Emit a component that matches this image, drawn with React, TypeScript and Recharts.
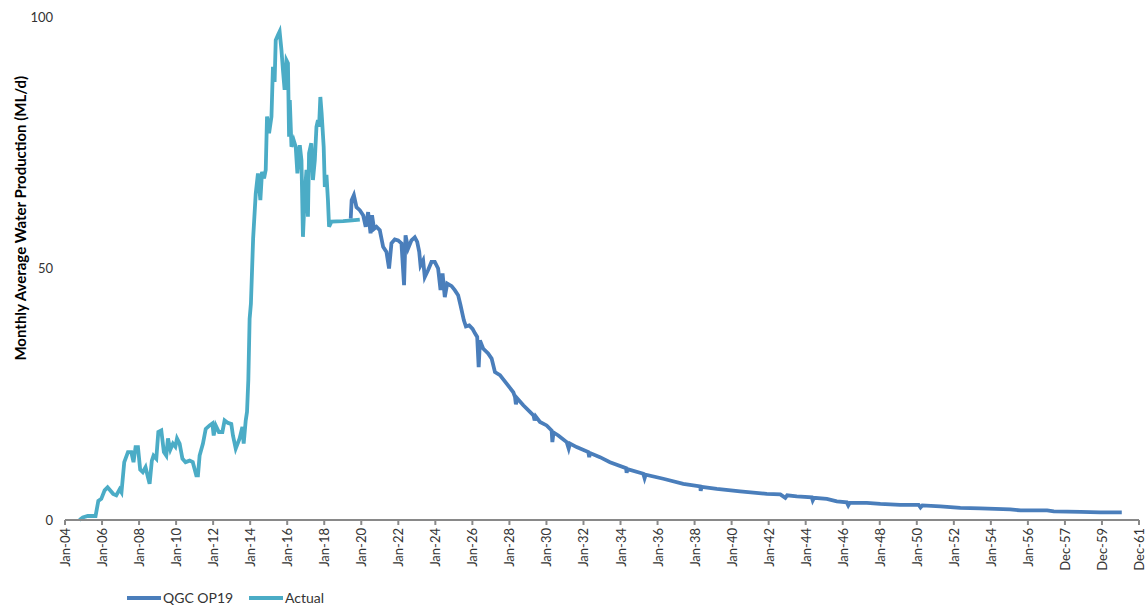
import { LineChart, Line, XAxis, YAxis, Label } from "recharts";

document.body.style.margin = "0";

// Actual production (decimal year, ML/d)
const actualYears = [
  2004.78, 2004.96, 2005.23, 2005.65, 2005.8, 2005.96, 2006.14, 2006.3, 2006.6, 2006.77,
  2006.95, 2007.05, 2007.2, 2007.4, 2007.58, 2007.7, 2007.81, 2007.94, 2008.06, 2008.2,
  2008.35, 2008.48, 2008.57, 2008.69, 2008.78, 2008.93, 2009.04, 2009.2, 2009.34, 2009.47,
  2009.56, 2009.69, 2009.83, 2009.96, 2010.05, 2010.19, 2010.34, 2010.51, 2010.73, 2010.9,
  2011.09, 2011.18, 2011.27, 2011.45, 2011.6, 2011.81, 2011.96, 2012.03, 2012.14, 2012.31,
  2012.5, 2012.62, 2012.8, 2012.98, 2013.07, 2013.22, 2013.43, 2013.58, 2013.65, 2013.76,
  2013.83, 2013.9, 2013.97, 2014.04, 2014.16, 2014.3, 2014.42, 2014.55, 2014.64, 2014.75,
  2014.84, 2014.91, 2015.02, 2015.15, 2015.23, 2015.32, 2015.38, 2015.5, 2015.59, 2015.69,
  2015.77, 2015.86, 2015.96, 2016.04, 2016.1, 2016.14, 2016.23, 2016.35, 2016.46, 2016.55,
  2016.68, 2016.77, 2016.85, 2016.95, 2017.04, 2017.12, 2017.18, 2017.3, 2017.39, 2017.49,
  2017.58, 2017.66, 2017.72, 2017.79, 2017.86, 2017.97, 2018.03, 2018.12, 2018.2, 2018.26,
  2018.39, 2019.02, 2019.65, 2019.92,
];
const actualValues = [
  0, 0.5, 0.8, 0.8, 3.8, 4.2, 5.9, 6.5, 5.2, 4.9,
  6.1, 5.5, 11.5, 13.5, 13.5, 11.5, 14.5, 14.5, 10, 9.5,
  10.5, 8.5, 7.2, 11.8, 12.8, 12.2, 17.5, 17.8, 13.5, 12.8,
  16.2, 14, 15.2, 14.6, 16.2, 15.2, 12.2, 11.5, 11.8, 11.5,
  8.9, 8.9, 12.8, 15.2, 18.1, 18.8, 19.2, 16.8, 18.8, 17.5,
  17.5, 19.8, 19.3, 19.1, 16.8, 14.2, 16.2, 18.5, 15.2, 19.8,
  21.5, 27.8, 40, 43, 56, 64.9, 68.9, 63.6, 69.2, 67.9,
  69.6, 80.2, 76.9, 80.2, 90.1, 87.1, 95.4, 96.4, 97.1, 93.4,
  89.5, 85.5, 91.4, 90.8, 76.2, 83.5, 74.2, 75.5, 74.2, 68.9,
  74.5, 71.5, 56.3, 64.9, 69.6, 60.3, 72.9, 74.9, 67.6, 71.5,
  78.2, 79.5, 78.2, 84.1, 80.8, 74.2, 66.2, 68.6, 63.6, 58.3,
  59.3, 59.4, 59.6, 59.7,
];

// QGC OP19 forecast (decimal year, ML/d)
const forecastYears = [
  2019.43, 2019.48, 2019.6, 2019.74, 2019.92, 2020.1, 2020.24, 2020.37, 2020.5, 2020.58,
  2020.69, 2020.82, 2021.0, 2021.18, 2021.36, 2021.5, 2021.63, 2021.81, 2021.99, 2022.17,
  2022.31, 2022.39, 2022.53, 2022.71, 2022.89, 2023.02, 2023.13, 2023.2, 2023.34, 2023.43,
  2023.61, 2023.79, 2023.97, 2024.15, 2024.28, 2024.39, 2024.51, 2024.64, 2024.88, 2025.05,
  2025.23, 2025.36, 2025.54, 2025.65, 2025.83, 2026.01, 2026.14, 2026.26, 2026.34, 2026.41,
  2026.58, 2026.85, 2027.04, 2027.22, 2027.49, 2027.85, 2028.21, 2028.3, 2028.35, 2028.42,
  2028.75, 2029.11, 2029.3, 2029.36, 2029.42, 2029.65, 2030.01, 2030.28, 2030.32, 2030.38,
  2030.64, 2031.09, 2031.2, 2031.27, 2031.63, 2032.26, 2032.31, 2032.36, 2032.89, 2033.43,
  2034.3, 2034.33, 2034.38, 2035.23, 2035.3, 2035.36, 2036.31, 2037.39, 2038.3, 2038.33,
  2038.38, 2039.2, 2040.46, 2041.9, 2042.63, 2042.9, 2043.0, 2043.52, 2044.33, 2044.38,
  2044.45, 2045.14, 2045.68, 2046.22, 2046.3, 2046.38, 2047.3, 2048.03, 2049.1, 2050.1,
  2050.2, 2050.3, 2051.27, 2052.35, 2053.43, 2055.05, 2055.6, 2057.04, 2057.4, 2058.85,
  2059.9, 2061.07,
];
const forecastValues = [
  59.9, 63.6, 64.6, 62.2, 61.6, 60.6, 58.3, 61.2, 57.0, 60.6,
  57.9, 58.3, 57.6, 54.3, 53.3, 50.0, 55.0, 55.8, 55.6, 55.0,
  46.7, 56.6, 54.0, 55.6, 56.2, 55.3, 53.3, 50.6, 51.6, 48.3,
  49.7, 51.3, 51.3, 50.0, 45.7, 49.0, 44.3, 47.0, 46.5, 45.7,
  44.7, 42.7, 39.7, 38.5, 38.7, 38.0, 37.1, 36.4, 30.4, 35.7,
  34.1, 33.1, 32.1, 29.4, 28.8, 27.1, 25.4, 24.5, 23.0, 24.2,
  22.8, 21.5, 20.8, 19.8, 20.6, 19.5, 18.8, 17.8, 15.5, 17.4,
  16.8, 15.5, 14.2, 15.2, 14.5, 13.5, 12.5, 13.3, 12.5, 11.5,
  10.3, 9.4, 10.1, 9.2, 8.3, 9.0, 8.2, 7.2, 6.7, 5.8,
  6.6, 6.2, 5.7, 5.2, 5.1, 4.4, 4.9, 4.7, 4.5, 3.9,
  4.4, 4.2, 3.7, 3.5, 2.9, 3.4, 3.4, 3.2, 3.0, 3.0,
  2.5, 2.9, 2.7, 2.4, 2.3, 2.1, 1.9, 1.9, 1.7, 1.6,
  1.5, 1.5,
];

const xTicks = [
  2004, 2006, 2008, 2010, 2012, 2014, 2016, 2018, 2020, 2022, 2024, 2026, 2028, 2030, 2032,
  2034, 2036, 2038, 2040, 2042, 2044, 2046, 2048, 2050, 2052, 2054, 2056, 2058, 2060, 2062,
];
const xTickLabels = [
  "Jan-04", "Jan-06", "Jan-08", "Jan-10", "Jan-12", "Jan-14", "Jan-16", "Jan-18", "Jan-20",
  "Jan-22", "Jan-24", "Jan-26", "Jan-28", "Jan-30", "Jan-32", "Jan-34", "Jan-36", "Jan-38",
  "Jan-40", "Jan-42", "Jan-44", "Jan-46", "Jan-48", "Jan-50", "Jan-52", "Jan-54", "Jan-56",
  "Dec-57", "Dec-59", "Dec-61",
];
const yTicks = [0, 50, 100];

const actualData = actualYears.map((t, i) => ({ t, v: actualValues[i] }));
const forecastData = forecastYears.map((t, i) => ({ t, v: forecastValues[i] }));

const series = [
  { name: "QGC OP19", color: "#4A7EBB", data: forecastData },
  { name: "Actual", color: "#4BACC6", data: actualData },
];
const legendLeft = [127, 249];

const FONT = "Lato, 'Liberation Sans', sans-serif";

function XTick({ x, y, payload }: any) {
  const label = xTickLabels[xTicks.indexOf(payload.value)];
  return (
    <text
      x={x}
      y={y}
      transform={`rotate(-90, ${x}, ${y})`}
      textAnchor="end"
      dominantBaseline="central"
      fontSize={13}
      fontFamily={FONT}
      fill="#333"
    >
      {label}
    </text>
  );
}

function YTitle({ viewBox }: any) {
  const cx = 20;
  const cy = viewBox.y + viewBox.height * 0.4;
  return (
    <text
      x={cx}
      y={cy}
      transform={`rotate(-90, ${cx}, ${cy})`}
      textAnchor="middle"
      dominantBaseline="central"
      fontSize={15}
      fontWeight="bold"
      fontFamily={FONT}
      fill="#000"
    >
      Monthly Average Water Production (ML/d)
    </text>
  );
}

export default function App() {
  return (
    <div style={{ position: "relative", width: 1147, height: 607, background: "#fff" }}>
      <LineChart width={1147} height={607} margin={{ top: 17, right: 8, bottom: 27, left: 0 }}>
        <XAxis
          type="number"
          dataKey="t"
          domain={[2004, 2062]}
          ticks={xTicks}
          interval={0}
          allowDataOverflow
          height={60}
          stroke="#898989"
          strokeWidth={2}
          tickSize={5}
          tickMargin={3}
          tick={<XTick />}
        />
        <YAxis
          type="number"
          domain={[0, 100]}
          ticks={yTicks}
          width={65}
          axisLine={false}
          tickLine={false}
          tickSize={0}
          tickMargin={12}
          tick={{ fontSize: 13, fontFamily: FONT, fill: "#333" }}
        >
          <Label content={<YTitle />} />
        </YAxis>
        {series.map((s) => (
          <Line
            key={s.name}
            data={s.data}
            dataKey="v"
            name={s.name}
            type="linear"
            stroke={s.color}
            strokeWidth={3.8}
            dot={false}
            activeDot={false}
            isAnimationActive={false}
          />
        ))}
      </LineChart>
      {series.map((s, i) => (
        <div
          key={s.name}
          style={{
            position: "absolute",
            left: legendLeft[i],
            top: 589,
            display: "flex",
            alignItems: "center",
            fontFamily: FONT,
            fontSize: 14,
            color: "#333",
            whiteSpace: "nowrap",
          }}
        >
          <span style={{ display: "inline-block", width: 34, height: 4, background: s.color, marginRight: 2 }} />
          <span>{s.name}</span>
        </div>
      ))}
    </div>
  );
}
